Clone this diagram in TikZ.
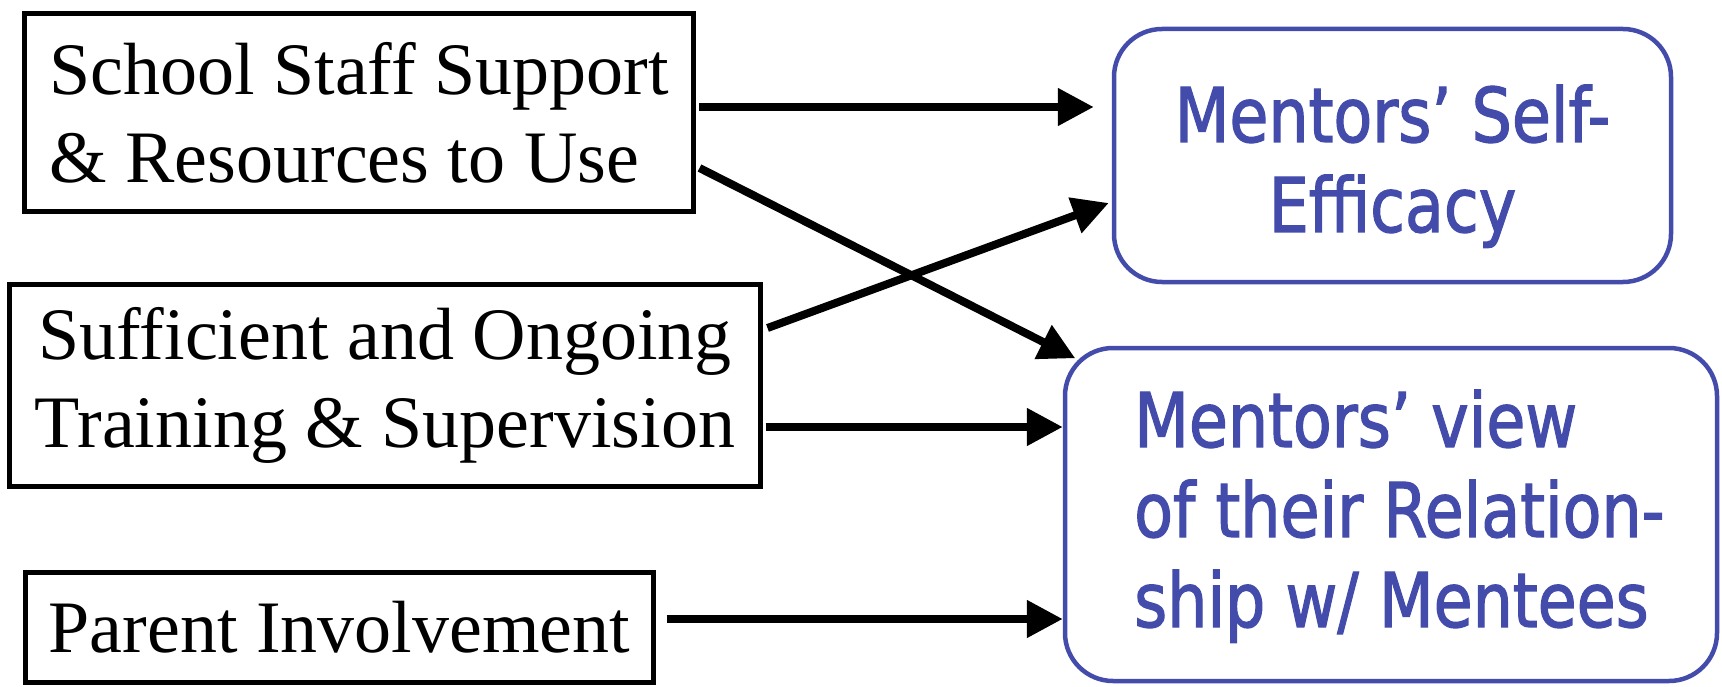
\documentclass[tikz,border=0pt]{standalone}
\usepackage{fontspec}
\setmainfont{Liberation Serif}
\newfontfamily\bluefont{DejaVu Sans}[FakeStretch=0.84, FakeBold=1.6]
\usetikzlibrary{arrows.meta}
\definecolor{mentorblue}{RGB}{68,76,171}
\tikzset{
  factor/.style={draw=black, line width=5pt, inner sep=0pt,
    font=\fontsize{74}{88}\selectfont},
  outcome/.style={draw=mentorblue, line width=4.5pt, rounded corners=48pt, inner sep=0pt},
  outtext/.style={text=mentorblue, inner sep=0pt,
    font=\bluefont\fontsize{75.5}{90}\selectfont},
  link/.style={line width=8pt, -{Triangle[length=36pt,width=36pt]}}
}
\begin{document}
\begin{tikzpicture}[x=1pt, y=-1pt]
\useasboundingbox (0,0) rectangle (1722,687);

% influencing factors
\node[factor, align=left, minimum width=669pt, minimum height=198pt] (s1) at (359,112.5)
  {School Staff Support\\\& Resources to Use};
\node[factor, align=center, minimum width=751pt, minimum height=202pt] (s2) at (385,385.5)
  {Sufficient and Ongoing\\Training \& Supervision};
\node[factor, minimum width=628pt, minimum height=110pt] (s3) at (339.5,627.5)
  {Parent Involvement};

% outcomes (frames, then their texts set on the last line's baseline)
\node[outcome, minimum width=557pt, minimum height=253pt] (m1) at (1392.5,155.5) {};
\node[outtext, align=center, anchor=base] (m1t) at (1392.5,232)
  {Mentors’ Self-\\Efficacy};
\node[outcome, minimum width=652pt, minimum height=333pt] (m2) at (1391,514.5) {};
\node[outtext, align=left, anchor=base west] (m2t) at (1134,627)
  {Mentors’ view\\of their Relation-\\ship w/ Mentees};

% connector end points
\coordinate (a1s) at ([xshift=3pt, yshift=5.5pt]s1.east);
\coordinate (m1w) at ([xshift=-18pt]m1.west);
\coordinate (a2s) at ([xshift=3.5pt, yshift=-55.5pt]s1.east);
\coordinate (a2e) at ([xshift=12.5pt, yshift=-12.5pt]m2.north west);
\coordinate (a3s) at ([xshift=4.5pt, yshift=57.5pt]s2.east);
\coordinate (a3e) at ([xshift=-3pt, yshift=-47.5pt]m1.west);
\coordinate (a4s) at ([xshift=2.5pt, yshift=-41.5pt]s2.east);
\coordinate (a5s) at ([xshift=10.5pt, yshift=8.5pt]s3.east);

% connectors
\draw[link] (a1s) -- (m1w |- a1s);
\draw[link] (a3s) -- (a3e);
\draw[link] (a2s) -- (a2e);
\draw[link] (a4s) -- (m2.west |- a4s);
\draw[link] (a5s) -- (m2.west |- a5s);
\end{tikzpicture}
\end{document}
